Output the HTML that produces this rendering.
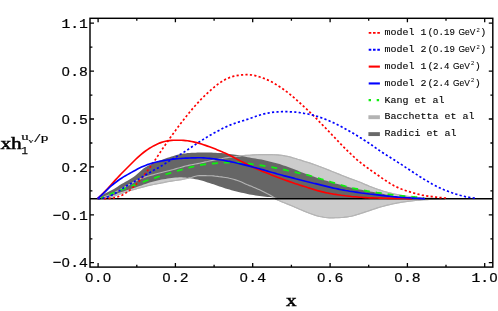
<!DOCTYPE html>
<html><head><meta charset="utf-8"><title>plot</title>
<style>
html,body{margin:0;padding:0;background:#fff;}
svg{display:block;}
text{font-family:"Liberation Mono",monospace;fill:#000;}
.t{filter:grayscale(1);}
.z{font-family:"Liberation Sans",sans-serif;}
.s text{font-family:"Liberation Serif",serif;}
</style></head><body>
<svg width="498" height="311" viewBox="0 0 498 311">
<rect width="498" height="311" fill="#fff"/>
<path d="M97.5,198.7 L99.5,198.2 L101.5,197.6 L103.5,197.0 L105.5,196.3 L107.5,195.6 L109.5,194.8 L111.5,194.0 L113.5,193.0 L115.5,192.0 L117.5,190.9 L119.5,189.9 L121.5,188.8 L123.5,187.8 L125.5,186.7 L127.5,185.6 L129.5,184.6 L131.5,183.5 L133.5,182.3 L135.5,181.2 L137.5,180.1 L139.5,179.1 L141.5,178.3 L143.5,177.6 L145.5,176.9 L147.5,176.3 L149.5,175.7 L151.5,175.1 L153.5,174.6 L155.5,174.0 L157.5,173.5 L159.5,173.0 L161.5,172.5 L163.5,172.0 L165.5,171.5 L167.5,171.0 L169.5,170.5 L171.5,170.0 L173.5,169.5 L175.5,168.9 L177.5,168.3 L179.5,167.8 L181.5,167.2 L183.5,166.6 L185.5,166.0 L187.5,165.6 L189.5,165.1 L191.5,164.7 L193.5,164.4 L195.5,164.0 L197.5,163.6 L199.5,163.2 L201.5,162.8 L203.5,162.4 L205.5,161.9 L207.5,161.5 L209.5,161.0 L211.5,160.6 L213.5,160.2 L215.5,159.8 L217.5,159.4 L219.5,159.0 L221.5,158.7 L223.5,158.3 L225.5,157.9 L227.5,157.6 L229.5,157.3 L231.5,157.1 L233.5,156.8 L235.5,156.6 L237.5,156.3 L239.5,156.1 L241.5,155.8 L243.5,155.6 L245.5,155.4 L247.5,155.3 L249.5,155.2 L251.5,155.0 L253.5,154.9 L255.5,154.8 L257.5,154.7 L259.5,154.6 L261.5,154.6 L263.5,154.6 L265.5,154.6 L267.5,154.6 L269.5,154.6 L271.5,154.6 L273.5,154.7 L275.5,154.8 L277.5,154.9 L279.5,155.1 L281.5,155.3 L283.5,155.6 L285.5,156.0 L287.5,156.4 L289.5,156.8 L291.5,157.4 L293.5,158.0 L295.5,158.5 L297.5,159.2 L299.5,159.8 L301.5,160.4 L303.5,161.1 L305.5,161.7 L307.5,162.3 L309.5,162.9 L311.5,163.6 L313.5,164.3 L315.5,165.0 L317.5,165.7 L319.5,166.5 L321.5,167.2 L323.5,168.0 L325.5,168.8 L327.5,169.6 L329.5,170.4 L331.5,171.2 L333.5,172.0 L335.5,172.8 L337.5,173.6 L339.5,174.4 L341.5,175.2 L343.5,176.0 L345.5,176.8 L347.5,177.6 L349.5,178.4 L351.5,179.1 L353.5,179.8 L355.5,180.5 L357.5,181.3 L359.5,182.0 L361.5,182.8 L363.5,183.7 L365.5,184.6 L367.5,185.4 L369.5,186.3 L371.5,187.0 L373.5,187.8 L375.5,188.5 L377.5,189.2 L379.5,189.9 L381.5,190.5 L383.5,191.2 L385.5,191.7 L387.5,192.3 L389.5,192.8 L391.5,193.3 L393.5,193.8 L395.5,194.2 L397.5,194.6 L399.5,195.0 L401.5,195.3 L403.5,195.7 L405.5,196.0 L407.5,196.3 L409.5,196.6 L411.5,196.9 L413.5,197.1 L415.5,197.3 L417.5,197.5 L419.5,197.6 L421.5,197.8 L423.5,197.9 L425.5,198.1 L427.5,198.2 L429.5,198.3 L431.5,198.3 L433.5,198.4 L435.5,198.5 L437.5,198.6 L439.5,198.6 L441.5,198.7 L443.5,198.7 L445.0,198.7 L445.0,198.7 L443.5,198.8 L441.5,198.8 L439.5,198.9 L437.5,199.0 L435.5,199.1 L433.5,199.2 L431.5,199.3 L429.5,199.4 L427.5,199.6 L425.5,199.7 L423.5,199.8 L421.5,200.0 L419.5,200.2 L417.5,200.3 L415.5,200.5 L413.5,200.7 L411.5,201.0 L409.5,201.2 L407.5,201.4 L405.5,201.7 L403.5,202.0 L401.5,202.3 L399.5,202.6 L397.5,203.0 L395.5,203.4 L393.5,203.8 L391.5,204.2 L389.5,204.7 L387.5,205.1 L385.5,205.6 L383.5,206.2 L381.5,206.7 L379.5,207.3 L377.5,207.9 L375.5,208.6 L373.5,209.2 L371.5,209.9 L369.5,210.6 L367.5,211.3 L365.5,211.9 L363.5,212.6 L361.5,213.2 L359.5,213.9 L357.5,214.5 L355.5,215.1 L353.5,215.7 L351.5,216.2 L349.5,216.5 L347.5,216.9 L345.5,217.1 L343.5,217.4 L341.5,217.5 L339.5,217.6 L337.5,217.7 L335.5,217.7 L333.5,217.8 L331.5,217.8 L329.5,217.8 L327.5,217.7 L325.5,217.5 L323.5,217.2 L321.5,216.8 L319.5,216.5 L317.5,216.0 L315.5,215.4 L313.5,214.7 L311.5,214.0 L309.5,213.3 L307.5,212.5 L305.5,211.7 L303.5,210.9 L301.5,210.0 L299.5,209.2 L297.5,208.3 L295.5,207.5 L293.5,206.6 L291.5,205.7 L289.5,204.9 L287.5,204.1 L285.5,203.3 L283.5,202.5 L281.5,201.7 L279.5,200.8 L277.5,200.0 L275.5,198.9 L273.5,197.3 L271.5,195.9 L269.5,194.8 L267.5,193.8 L265.5,192.7 L263.5,191.7 L261.5,190.7 L259.5,189.8 L257.5,188.9 L255.5,188.0 L253.5,187.2 L251.5,186.3 L249.5,185.6 L247.5,184.8 L245.5,183.9 L243.5,183.0 L241.5,182.1 L239.5,181.2 L237.5,180.5 L235.5,179.9 L233.5,179.3 L231.5,178.7 L229.5,178.3 L227.5,177.8 L225.5,177.5 L223.5,177.2 L221.5,176.9 L219.5,176.7 L217.5,176.4 L215.5,176.2 L213.5,175.9 L211.5,175.8 L209.5,175.7 L207.5,175.7 L205.5,175.6 L203.5,175.6 L201.5,175.6 L199.5,175.6 L197.5,175.7 L195.5,176.2 L193.5,176.8 L191.5,177.5 L189.5,177.9 L187.5,178.4 L185.5,178.8 L183.5,179.2 L181.5,179.6 L179.5,179.9 L177.5,180.2 L175.5,180.5 L173.5,180.8 L171.5,181.1 L169.5,181.4 L167.5,181.7 L165.5,182.1 L163.5,182.6 L161.5,183.0 L159.5,183.4 L157.5,183.7 L155.5,184.1 L153.5,184.5 L151.5,184.9 L149.5,185.4 L147.5,185.8 L145.5,186.4 L143.5,186.9 L141.5,187.4 L139.5,188.0 L137.5,188.5 L135.5,189.1 L133.5,189.6 L131.5,190.2 L129.5,190.8 L127.5,191.5 L125.5,192.1 L123.5,192.8 L121.5,193.5 L119.5,194.2 L117.5,195.0 L115.5,195.7 L113.5,196.5 L111.5,197.1 L109.5,197.5 L107.5,197.8 L105.5,198.1 L103.5,198.3 L101.5,198.5 L99.5,198.7 L97.5,198.7Z" fill="#cccccc" stroke="#b2b2b2" stroke-width="0.9" stroke-linejoin="round"/>
<path d="M97.5,198.7 L99.5,197.1 L101.5,195.7 L103.5,194.4 L105.5,193.2 L107.5,192.2 L109.5,191.3 L111.5,190.3 L113.5,189.3 L115.5,188.1 L117.5,186.7 L119.5,185.3 L121.5,184.1 L123.5,183.0 L125.5,181.8 L127.5,180.7 L129.5,179.6 L131.5,178.3 L133.5,177.0 L135.5,175.5 L137.5,173.7 L139.5,171.9 L141.5,170.2 L143.5,168.6 L145.5,167.3 L147.5,166.0 L149.5,165.0 L151.5,164.0 L153.5,163.1 L155.5,162.3 L157.5,161.5 L159.5,160.7 L161.5,159.9 L163.5,159.2 L165.5,158.5 L167.5,157.8 L169.5,157.2 L171.5,156.5 L173.5,155.9 L175.5,155.3 L177.5,154.7 L179.5,154.3 L181.5,154.0 L183.5,153.6 L185.5,153.4 L187.5,153.1 L189.5,153.0 L191.5,152.8 L193.5,152.7 L195.5,152.7 L197.5,152.6 L199.5,152.6 L201.5,152.5 L203.5,152.5 L205.5,152.5 L207.5,152.5 L209.5,152.6 L211.5,152.6 L213.5,152.7 L215.5,152.8 L217.5,152.9 L219.5,153.0 L221.5,153.1 L223.5,153.3 L225.5,153.5 L227.5,153.7 L229.5,154.0 L231.5,154.2 L233.5,154.5 L235.5,154.8 L237.5,155.1 L239.5,155.4 L241.5,155.8 L243.5,156.3 L245.5,156.8 L247.5,157.2 L249.5,157.5 L251.5,157.9 L253.5,158.2 L255.5,158.5 L257.5,158.9 L259.5,159.2 L261.5,159.6 L263.5,160.0 L265.5,160.4 L267.5,160.9 L269.5,161.4 L271.5,161.9 L273.5,162.4 L275.5,162.9 L277.5,163.5 L279.5,164.1 L281.5,164.7 L283.5,165.4 L285.5,166.1 L287.5,166.8 L289.5,167.5 L291.5,168.2 L293.5,169.0 L295.5,169.8 L297.5,170.6 L299.5,171.4 L301.5,172.2 L303.5,172.9 L305.5,173.7 L307.5,174.4 L309.5,175.2 L311.5,175.9 L313.5,176.6 L315.5,177.3 L317.5,178.0 L319.5,178.6 L321.5,179.3 L323.5,179.9 L325.5,180.5 L327.5,181.1 L329.5,181.7 L331.5,182.3 L333.5,182.9 L335.5,183.5 L337.5,184.0 L339.5,184.6 L341.5,185.1 L343.5,185.7 L345.5,186.2 L347.5,186.7 L349.5,187.2 L351.5,187.7 L353.5,188.1 L355.5,188.5 L357.5,189.0 L359.5,189.4 L361.5,189.8 L363.5,190.2 L365.5,190.6 L367.5,191.0 L369.5,191.4 L371.5,191.7 L373.5,192.1 L375.5,192.5 L377.5,192.8 L379.5,193.2 L381.5,193.6 L383.5,194.0 L385.5,194.4 L387.5,194.8 L389.5,195.2 L391.5,195.6 L393.5,195.9 L395.5,196.2 L397.5,196.5 L399.5,196.7 L401.5,197.0 L403.5,197.2 L405.5,197.4 L407.5,197.6 L409.5,197.8 L411.5,197.9 L413.5,198.1 L415.5,198.2 L417.5,198.4 L419.5,198.5 L421.5,198.7 L422.0,198.7 L422.0,198.7 L421.5,198.7 L419.5,198.7 L417.5,198.7 L415.5,198.7 L413.5,198.7 L411.5,198.7 L409.5,198.7 L407.5,198.7 L405.5,198.7 L403.5,198.7 L401.5,198.7 L399.5,198.7 L397.5,198.7 L395.5,198.7 L393.5,198.7 L391.5,198.7 L389.5,198.7 L387.5,198.7 L385.5,198.7 L383.5,198.7 L381.5,198.7 L379.5,198.7 L377.5,198.7 L375.5,198.7 L373.5,198.7 L371.5,198.7 L369.5,198.7 L367.5,198.7 L365.5,198.7 L363.5,198.7 L361.5,198.7 L359.5,198.7 L357.5,198.7 L355.5,198.7 L353.5,198.7 L351.5,198.7 L349.5,198.7 L347.5,198.7 L345.5,198.7 L343.5,198.7 L341.5,198.7 L339.5,198.7 L337.5,198.7 L335.5,198.7 L333.5,198.7 L331.5,198.7 L329.5,198.7 L327.5,198.7 L325.5,198.7 L323.5,198.7 L321.5,198.7 L319.5,198.7 L317.5,198.7 L315.5,198.7 L313.5,198.7 L311.5,198.7 L309.5,198.7 L307.5,198.7 L305.5,198.7 L303.5,198.7 L301.5,198.7 L299.5,198.7 L297.5,198.7 L295.5,198.7 L293.5,198.7 L291.5,198.7 L289.5,198.7 L287.5,198.6 L285.5,198.5 L283.5,198.4 L281.5,198.2 L279.5,198.0 L277.5,197.9 L275.5,197.7 L273.5,197.5 L271.5,197.3 L269.5,197.1 L267.5,196.9 L265.5,196.7 L263.5,196.5 L261.5,196.3 L259.5,196.0 L257.5,195.7 L255.5,195.4 L253.5,195.1 L251.5,194.7 L249.5,194.4 L247.5,194.0 L245.5,193.6 L243.5,193.1 L241.5,192.7 L239.5,192.2 L237.5,191.8 L235.5,191.2 L233.5,190.7 L231.5,190.2 L229.5,189.6 L227.5,189.0 L225.5,188.4 L223.5,187.7 L221.5,187.1 L219.5,186.4 L217.5,185.7 L215.5,185.0 L213.5,184.3 L211.5,183.7 L209.5,183.0 L207.5,182.4 L205.5,181.7 L203.5,181.1 L201.5,180.6 L199.5,180.1 L197.5,179.6 L195.5,179.2 L193.5,178.8 L191.5,178.4 L189.5,178.1 L187.5,177.9 L185.5,177.6 L183.5,177.4 L181.5,177.3 L179.5,177.3 L177.5,177.4 L175.5,177.6 L173.5,177.8 L171.5,178.1 L169.5,178.3 L167.5,178.6 L165.5,178.9 L163.5,179.2 L161.5,179.6 L159.5,180.0 L157.5,180.4 L155.5,180.9 L153.5,181.5 L151.5,182.0 L149.5,182.6 L147.5,183.3 L145.5,183.9 L143.5,184.6 L141.5,185.4 L139.5,186.0 L137.5,186.7 L135.5,187.4 L133.5,188.1 L131.5,188.8 L129.5,189.4 L127.5,190.1 L125.5,190.8 L123.5,191.4 L121.5,192.1 L119.5,192.8 L117.5,193.6 L115.5,194.4 L113.5,195.1 L111.5,195.8 L109.5,196.4 L107.5,196.9 L105.5,197.3 L103.5,197.7 L101.5,198.1 L99.5,198.4 L97.5,198.7Z" fill="#666666"/>
<path d="M97.5,198.7 L99.5,198.2 L101.5,197.6 L103.5,197.0 L105.5,196.3 L107.5,195.6 L109.5,194.8 L111.5,194.0 L113.5,193.0 L115.5,192.0 L117.5,190.9 L119.5,189.9 L121.5,188.8 L123.5,187.8 L125.5,186.7 L127.5,185.6 L129.5,184.6 L131.5,183.5 L133.5,182.3 L135.5,181.2 L137.5,180.1 L139.5,179.1 L141.5,178.3 L143.5,177.6 L145.5,176.9 L147.5,176.3 L149.5,175.7 L151.5,175.1 L153.5,174.6 L155.5,174.0 L157.5,173.5 L159.5,173.0 L161.5,172.5 L163.5,172.0 L165.5,171.5 L167.5,171.0 L169.5,170.5 L171.5,170.0 L173.5,169.5 L175.5,168.9 L177.5,168.3 L179.5,167.8 L181.5,167.2 L183.5,166.6 L185.5,166.0 L187.5,165.6 L189.5,165.1 L191.5,164.7 L193.5,164.4 L195.5,164.0 L197.5,163.6 L199.5,163.2 L201.5,162.8 L203.5,162.4 L205.5,161.9 L207.5,161.5 L209.5,161.0 L211.5,160.6 L213.5,160.2 L215.5,159.8 L217.5,159.4 L219.5,159.0 L221.5,158.7 L223.5,158.3 L225.5,157.9 L227.5,157.6 L229.5,157.3 L231.5,157.1 L233.5,156.8 L235.5,156.6 L237.5,156.3 L239.5,156.1 L241.5,155.8 L243.5,155.6 L245.5,155.4 L247.5,155.3 L249.5,155.2 L251.5,155.0 L253.5,154.9 L255.5,154.8 L257.5,154.7 L259.5,154.6 L261.5,154.6 L263.5,154.6 L265.5,154.6 L267.5,154.6 L269.5,154.6 L271.5,154.6 L273.5,154.7 L275.5,154.8 L277.5,154.9 L279.5,155.1 L281.5,155.3 L283.5,155.6 L285.5,156.0 L287.5,156.4 L289.5,156.8 L291.5,157.4 L293.5,158.0 L295.5,158.5 L297.5,159.2 L299.5,159.8 L301.5,160.4 L303.5,161.1 L305.5,161.7 L307.5,162.3 L309.5,162.9 L311.5,163.6 L313.5,164.3 L315.5,165.0 L317.5,165.7 L319.5,166.5 L321.5,167.2 L323.5,168.0 L325.5,168.8 L327.5,169.6 L329.5,170.4 L331.5,171.2 L333.5,172.0 L335.5,172.8 L337.5,173.6 L339.5,174.4 L341.5,175.2 L343.5,176.0 L345.5,176.8 L347.5,177.6 L349.5,178.4 L351.5,179.1 L353.5,179.8 L355.5,180.5 L357.5,181.3 L359.5,182.0 L361.5,182.8 L363.5,183.7 L365.5,184.6 L367.5,185.4 L369.5,186.3 L371.5,187.0 L373.5,187.8 L375.5,188.5 L377.5,189.2 L379.5,189.9 L381.5,190.5 L383.5,191.2 L385.5,191.7 L387.5,192.3 L389.5,192.8 L391.5,193.3 L393.5,193.8 L395.5,194.2 L397.5,194.6 L399.5,195.0 L401.5,195.3 L403.5,195.7 L405.5,196.0 L407.5,196.3 L409.5,196.6 L411.5,196.9 L413.5,197.1 L415.5,197.3 L417.5,197.5 L419.5,197.6 L421.5,197.8 L423.5,197.9 L425.5,198.1 L427.5,198.2 L429.5,198.3 L431.5,198.3 L433.5,198.4 L435.5,198.5 L437.5,198.6 L439.5,198.6 L441.5,198.7 L443.5,198.7 L445.0,198.7" fill="none" stroke="#b4b4b4" stroke-width="1.15"/>
<path d="M97.5,198.7 L99.5,198.7 L101.5,198.5 L103.5,198.3 L105.5,198.1 L107.5,197.8 L109.5,197.5 L111.5,197.1 L113.5,196.5 L115.5,195.7 L117.5,195.0 L119.5,194.2 L121.5,193.5 L123.5,192.8 L125.5,192.1 L127.5,191.5 L129.5,190.8 L131.5,190.2 L133.5,189.6 L135.5,189.1 L137.5,188.5 L139.5,188.0 L141.5,187.4 L143.5,186.9 L145.5,186.4 L147.5,185.8 L149.5,185.4 L151.5,184.9 L153.5,184.5 L155.5,184.1 L157.5,183.7 L159.5,183.4 L161.5,183.0 L163.5,182.6 L165.5,182.1 L167.5,181.7 L169.5,181.4 L171.5,181.1 L173.5,180.8 L175.5,180.5 L177.5,180.2 L179.5,179.9 L181.5,179.6 L183.5,179.2 L185.5,178.8 L187.5,178.4 L189.5,177.9 L191.5,177.5 L193.5,176.8 L195.5,176.2 L197.5,175.7 L199.5,175.6 L201.5,175.6 L203.5,175.6 L205.5,175.6 L207.5,175.7 L209.5,175.7 L211.5,175.8 L213.5,175.9 L215.5,176.2 L217.5,176.4 L219.5,176.7 L221.5,176.9 L223.5,177.2 L225.5,177.5 L227.5,177.8 L229.5,178.3 L231.5,178.7 L233.5,179.3 L235.5,179.9 L237.5,180.5 L239.5,181.2 L241.5,182.1 L243.5,183.0 L245.5,183.9 L247.5,184.8 L249.5,185.6 L251.5,186.3 L253.5,187.2 L255.5,188.0 L257.5,188.9 L259.5,189.8 L261.5,190.7 L263.5,191.7 L265.5,192.7 L267.5,193.8 L269.5,194.8 L271.5,195.9 L273.5,197.3 L275.5,198.9 L277.5,200.0 L279.5,200.8 L281.5,201.7 L283.5,202.5 L285.5,203.3 L287.5,204.1 L289.5,204.9 L291.5,205.7 L293.5,206.6 L295.5,207.5 L297.5,208.3 L299.5,209.2 L301.5,210.0 L303.5,210.9 L305.5,211.7 L307.5,212.5 L309.5,213.3 L311.5,214.0 L313.5,214.7 L315.5,215.4 L317.5,216.0 L319.5,216.5 L321.5,216.8 L323.5,217.2 L325.5,217.5 L327.5,217.7 L329.5,217.8 L331.5,217.8 L333.5,217.8 L335.5,217.7 L337.5,217.7 L339.5,217.6 L341.5,217.5 L343.5,217.4 L345.5,217.1 L347.5,216.9 L349.5,216.5 L351.5,216.2 L353.5,215.7 L355.5,215.1 L357.5,214.5 L359.5,213.9 L361.5,213.2 L363.5,212.6 L365.5,211.9 L367.5,211.3 L369.5,210.6 L371.5,209.9 L373.5,209.2 L375.5,208.6 L377.5,207.9 L379.5,207.3 L381.5,206.7 L383.5,206.2 L385.5,205.6 L387.5,205.1 L389.5,204.7 L391.5,204.2 L393.5,203.8 L395.5,203.4 L397.5,203.0 L399.5,202.6 L401.5,202.3 L403.5,202.0 L405.5,201.7 L407.5,201.4 L409.5,201.2 L411.5,201.0 L413.5,200.7 L415.5,200.5 L417.5,200.3 L419.5,200.2 L421.5,200.0 L423.5,199.8 L425.5,199.7 L427.5,199.6 L429.5,199.4 L431.5,199.3 L433.5,199.2 L435.5,199.1 L437.5,199.0 L439.5,198.9 L441.5,198.8 L443.5,198.8 L445.0,198.7" fill="none" stroke="#b4b4b4" stroke-width="1.15"/>
<path d="M90.0,198.7 H492.8" stroke="#000" stroke-width="1.5"/>
<path d="M101.0,198.0 L103.0,197.2 L105.0,196.3 L107.0,195.5 L109.0,194.7 L111.0,193.8 L113.0,193.0 L115.0,192.2 L117.0,191.4 L119.0,190.6 L121.0,189.9 L123.0,189.1 L125.0,188.4 L127.0,187.7 L129.0,187.0 L131.0,186.3 L133.0,185.6 L135.0,184.9 L137.0,184.2 L139.0,183.4 L141.0,182.7 L143.0,182.0 L145.0,181.2 L147.0,180.5 L149.0,179.8 L151.0,179.1 L153.0,178.5 L155.0,177.8 L157.0,177.1 L159.0,176.5 L161.0,175.9 L163.0,175.3 L165.0,174.6 L167.0,174.0 L169.0,173.4 L171.0,172.8 L173.0,172.2 L175.0,171.6 L177.0,171.0 L179.0,170.4 L181.0,169.8 L183.0,169.3 L185.0,168.7 L187.0,168.2 L189.0,167.7 L191.0,167.1 L193.0,166.7 L195.0,166.2 L197.0,165.8 L199.0,165.4 L201.0,165.0 L203.0,164.7 L205.0,164.4 L207.0,164.1 L209.0,163.9 L211.0,163.7 L213.0,163.5 L215.0,163.3 L217.0,163.1 L219.0,163.0 L221.0,162.9 L223.0,162.7 L225.0,162.7 L227.0,162.6 L229.0,162.5 L231.0,162.5 L233.0,162.5 L235.0,162.5 L237.0,162.6 L239.0,162.7 L241.0,162.8 L243.0,163.0 L245.0,163.3 L247.0,163.5 L249.0,163.7 L251.0,164.0 L253.0,164.3 L255.0,164.6 L257.0,164.8 L259.0,165.1 L261.0,165.4 L263.0,165.7 L265.0,166.1 L267.0,166.4 L269.0,166.7 L271.0,167.1 L273.0,167.4 L275.0,167.8 L277.0,168.2 L279.0,168.6 L281.0,169.0 L283.0,169.5 L285.0,169.9 L287.0,170.4 L289.0,170.8 L291.0,171.3 L293.0,171.8 L295.0,172.2 L297.0,172.7 L299.0,173.1 L301.0,173.6 L303.0,174.0 L305.0,174.4 L307.0,174.9 L309.0,175.4 L311.0,176.0 L313.0,176.6 L315.0,177.2 L317.0,177.8 L319.0,178.4 L321.0,179.0 L323.0,179.6 L325.0,180.2 L327.0,180.8 L329.0,181.4 L331.0,182.0 L333.0,182.6 L335.0,183.2 L337.0,183.8 L339.0,184.4 L341.0,185.0 L343.0,185.6 L345.0,186.2 L347.0,186.7 L349.0,187.3 L351.0,187.7 L353.0,188.2 L355.0,188.6 L357.0,189.0 L359.0,189.4 L361.0,189.8 L363.0,190.2 L365.0,190.6 L367.0,191.0 L369.0,191.3 L371.0,191.6 L373.0,192.0 L375.0,192.3 L377.0,192.6 L379.0,192.8 L381.0,193.1 L383.0,193.4 L385.0,193.7 L387.0,194.0 L389.0,194.3 L391.0,194.6 L393.0,194.9 L395.0,195.1 L397.0,195.4 L399.0,195.6 L401.0,195.8 L403.0,196.0 L405.0,196.2 L407.0,196.3 L409.0,196.5 L411.0,196.7 L413.0,196.8 L415.0,197.0 L417.0,197.1 L419.0,197.4 L421.0,197.6 L423.0,197.9 L424.0,198.0" fill="none" stroke="#10ee10" stroke-width="1.8" stroke-dasharray="6.0 5.95" stroke-dashoffset="-8.94"/>
<path d="M104.0,198.7 L106.0,198.6 L108.0,198.5 L110.0,198.3 L112.0,198.1 L114.0,197.8 L116.0,197.3 L118.0,196.8 L120.0,196.0 L122.0,195.2 L124.0,194.1 L126.0,192.9 L128.0,191.5 L130.0,190.0 L132.0,188.3 L134.0,186.4 L136.0,184.5 L138.0,182.4 L140.0,180.1 L142.0,177.8 L144.0,175.4 L146.0,172.8 L148.0,170.1 L150.0,167.4 L152.0,164.5 L154.0,161.6 L156.0,158.6 L158.0,155.6 L160.0,152.6 L162.0,149.6 L164.0,146.7 L166.0,143.8 L168.0,141.0 L170.0,138.1 L172.0,135.3 L174.0,132.5 L176.0,129.8 L178.0,127.1 L180.0,124.4 L182.0,121.8 L184.0,119.3 L186.0,116.7 L188.0,114.3 L190.0,111.8 L192.0,109.4 L194.0,107.1 L196.0,104.8 L198.0,102.6 L200.0,100.4 L202.0,98.3 L204.0,96.4 L206.0,94.4 L208.0,92.6 L210.0,90.8 L212.0,89.0 L214.0,87.3 L216.0,85.7 L218.0,84.1 L220.0,82.7 L222.0,81.4 L224.0,80.2 L226.0,79.1 L228.0,78.2 L230.0,77.4 L232.0,76.7 L234.0,76.2 L236.0,75.8 L238.0,75.4 L240.0,75.1 L242.0,74.9 L244.0,74.8 L246.0,74.7 L248.0,74.7 L250.0,74.8 L252.0,75.0 L254.0,75.4 L256.0,75.8 L258.0,76.4 L260.0,77.0 L262.0,77.6 L264.0,78.4 L266.0,79.2 L268.0,80.1 L270.0,81.0 L272.0,82.1 L274.0,83.2 L276.0,84.4 L278.0,85.7 L280.0,87.0 L282.0,88.3 L284.0,89.7 L286.0,91.2 L288.0,92.7 L290.0,94.3 L292.0,96.0 L294.0,97.7 L296.0,99.4 L298.0,101.2 L300.0,103.0 L302.0,104.8 L304.0,106.7 L306.0,108.5 L308.0,110.4 L310.0,112.3 L312.0,114.3 L314.0,116.2 L316.0,118.2 L318.0,120.3 L320.0,122.3 L322.0,124.4 L324.0,126.4 L326.0,128.5 L328.0,130.6 L330.0,132.7 L332.0,134.8 L334.0,136.9 L336.0,139.0 L338.0,141.1 L340.0,143.2 L342.0,145.3 L344.0,147.3 L346.0,149.3 L348.0,151.3 L350.0,153.2 L352.0,155.1 L354.0,157.0 L356.0,158.8 L358.0,160.6 L360.0,162.2 L362.0,163.8 L364.0,165.3 L366.0,166.8 L368.0,168.2 L370.0,169.7 L372.0,171.1 L374.0,172.5 L376.0,173.9 L378.0,175.3 L380.0,176.7 L382.0,178.1 L384.0,179.5 L386.0,180.8 L388.0,182.1 L390.0,183.4 L392.0,184.6 L394.0,185.7 L396.0,186.7 L398.0,187.6 L400.0,188.5 L402.0,189.3 L404.0,190.0 L406.0,190.7 L408.0,191.3 L410.0,191.9 L412.0,192.5 L414.0,193.1 L416.0,193.7 L418.0,194.2 L420.0,194.6 L422.0,195.1 L424.0,195.4 L426.0,195.8 L428.0,196.1 L430.0,196.4 L432.0,196.6 L434.0,196.9 L436.0,197.1 L438.0,197.4 L440.0,197.6 L442.0,197.7 L444.0,197.9 L446.0,198.0 L447.0,198.1" fill="none" stroke="#f00" stroke-width="1.7" stroke-dasharray="2.2 2.25"/>
<path d="M98.0,198.7 L100.0,198.5 L102.0,198.3 L104.0,197.9 L106.0,197.4 L108.0,196.7 L110.0,195.9 L112.0,195.0 L114.0,194.0 L116.0,192.8 L118.0,191.6 L120.0,190.2 L122.0,188.9 L124.0,187.6 L126.0,186.3 L128.0,185.0 L130.0,183.9 L132.0,182.8 L134.0,181.8 L136.0,180.7 L138.0,179.6 L140.0,178.4 L142.0,177.2 L144.0,176.0 L146.0,174.8 L148.0,173.6 L150.0,172.4 L152.0,171.3 L154.0,170.1 L156.0,169.0 L158.0,167.9 L160.0,166.8 L162.0,165.6 L164.0,164.3 L166.0,163.0 L168.0,161.8 L170.0,160.5 L172.0,159.3 L174.0,158.1 L176.0,157.0 L178.0,155.8 L180.0,154.6 L182.0,153.4 L184.0,152.1 L186.0,150.8 L188.0,149.5 L190.0,148.1 L192.0,146.8 L194.0,145.5 L196.0,144.1 L198.0,142.8 L200.0,141.5 L202.0,140.2 L204.0,139.0 L206.0,137.7 L208.0,136.5 L210.0,135.3 L212.0,134.2 L214.0,133.0 L216.0,132.0 L218.0,130.9 L220.0,129.9 L222.0,128.8 L224.0,127.8 L226.0,126.9 L228.0,126.0 L230.0,125.1 L232.0,124.3 L234.0,123.6 L236.0,122.9 L238.0,122.3 L240.0,121.6 L242.0,121.0 L244.0,120.4 L246.0,119.7 L248.0,119.1 L250.0,118.4 L252.0,117.7 L254.0,117.0 L256.0,116.3 L258.0,115.7 L260.0,115.0 L262.0,114.5 L264.0,113.9 L266.0,113.5 L268.0,113.1 L270.0,112.7 L272.0,112.4 L274.0,112.2 L276.0,112.0 L278.0,111.9 L280.0,111.8 L282.0,111.7 L284.0,111.7 L286.0,111.7 L288.0,111.7 L290.0,111.8 L292.0,111.9 L294.0,112.0 L296.0,112.2 L298.0,112.4 L300.0,112.7 L302.0,112.9 L304.0,113.3 L306.0,113.6 L308.0,114.0 L310.0,114.4 L312.0,114.9 L314.0,115.4 L316.0,116.0 L318.0,116.6 L320.0,117.3 L322.0,118.0 L324.0,118.7 L326.0,119.5 L328.0,120.3 L330.0,121.2 L332.0,122.1 L334.0,123.0 L336.0,124.0 L338.0,125.0 L340.0,126.0 L342.0,127.1 L344.0,128.2 L346.0,129.2 L348.0,130.4 L350.0,131.5 L352.0,132.6 L354.0,133.8 L356.0,135.0 L358.0,136.2 L360.0,137.5 L362.0,138.7 L364.0,140.0 L366.0,141.2 L368.0,142.5 L370.0,143.9 L372.0,145.2 L374.0,146.7 L376.0,148.1 L378.0,149.5 L380.0,150.9 L382.0,152.2 L384.0,153.5 L386.0,154.8 L388.0,156.1 L390.0,157.3 L392.0,158.6 L394.0,159.8 L396.0,161.1 L398.0,162.4 L400.0,163.6 L402.0,164.9 L404.0,166.2 L406.0,167.6 L408.0,168.9 L410.0,170.2 L412.0,171.5 L414.0,172.8 L416.0,174.1 L418.0,175.4 L420.0,176.7 L422.0,177.9 L424.0,179.2 L426.0,180.4 L428.0,181.6 L430.0,182.7 L432.0,183.9 L434.0,185.0 L436.0,186.0 L438.0,187.1 L440.0,188.0 L442.0,188.9 L444.0,189.8 L446.0,190.6 L448.0,191.3 L450.0,192.1 L452.0,192.8 L454.0,193.4 L456.0,194.1 L458.0,194.7 L460.0,195.3 L462.0,195.8 L464.0,196.3 L466.0,196.8 L468.0,197.1 L470.0,197.5 L472.0,197.7 L474.0,198.0 L475.0,198.1" fill="none" stroke="#00f" stroke-width="1.7" stroke-dasharray="2.2 2.25"/>
<path d="M97.5,198.7 L99.5,196.8 L101.5,194.9 L103.5,192.9 L105.5,190.9 L107.5,188.7 L109.5,186.5 L111.5,184.3 L113.5,182.1 L115.5,179.9 L117.5,177.7 L119.5,175.6 L121.5,173.5 L123.5,171.5 L125.5,169.5 L127.5,167.5 L129.5,165.5 L131.5,163.5 L133.5,161.5 L135.5,159.5 L137.5,157.7 L139.5,155.9 L141.5,154.2 L143.5,152.5 L145.5,151.0 L147.5,149.6 L149.5,148.3 L151.5,147.1 L153.5,145.9 L155.5,144.9 L157.5,144.0 L159.5,143.1 L161.5,142.4 L163.5,141.8 L165.5,141.3 L167.5,140.9 L169.5,140.6 L171.5,140.4 L173.5,140.3 L175.5,140.2 L177.5,140.2 L179.5,140.2 L181.5,140.3 L183.5,140.4 L185.5,140.6 L187.5,140.8 L189.5,141.1 L191.5,141.5 L193.5,141.9 L195.5,142.4 L197.5,142.9 L199.5,143.4 L201.5,144.0 L203.5,144.7 L205.5,145.4 L207.5,146.1 L209.5,146.8 L211.5,147.5 L213.5,148.3 L215.5,149.1 L217.5,149.9 L219.5,150.7 L221.5,151.6 L223.5,152.4 L225.5,153.3 L227.5,154.3 L229.5,155.2 L231.5,156.3 L233.5,157.3 L235.5,158.4 L237.5,159.5 L239.5,160.5 L241.5,161.6 L243.5,162.6 L245.5,163.6 L247.5,164.5 L249.5,165.5 L251.5,166.4 L253.5,167.4 L255.5,168.3 L257.5,169.2 L259.5,170.1 L261.5,170.9 L263.5,171.7 L265.5,172.5 L267.5,173.3 L269.5,174.1 L271.5,174.9 L273.5,175.7 L275.5,176.5 L277.5,177.3 L279.5,178.0 L281.5,178.8 L283.5,179.5 L285.5,180.2 L287.5,180.9 L289.5,181.6 L291.5,182.3 L293.5,183.0 L295.5,183.7 L297.5,184.3 L299.5,185.0 L301.5,185.6 L303.5,186.2 L305.5,186.8 L307.5,187.5 L309.5,188.1 L311.5,188.7 L313.5,189.4 L315.5,190.0 L317.5,190.6 L319.5,191.1 L321.5,191.6 L323.5,192.1 L325.5,192.6 L327.5,193.0 L329.5,193.4 L331.5,193.7 L333.5,194.1 L335.5,194.4 L337.5,194.7 L339.5,195.0 L341.5,195.3 L343.5,195.5 L345.5,195.8 L347.5,196.0 L349.5,196.2 L351.5,196.5 L353.5,196.7 L355.5,196.8 L357.5,197.0 L359.5,197.2 L361.5,197.3 L363.5,197.5 L365.5,197.6 L367.5,197.7 L369.5,197.8 L371.5,197.8 L373.5,197.9 L375.5,198.0 L377.5,198.0 L379.5,198.1 L381.5,198.1 L383.5,198.2 L385.5,198.2 L387.5,198.3 L389.5,198.3 L391.5,198.3 L393.5,198.4 L395.5,198.4 L397.5,198.4 L399.5,198.5 L401.5,198.5 L403.5,198.5 L405.5,198.5 L407.5,198.6 L409.5,198.6 L411.5,198.7 L412.0,198.7" fill="none" stroke="#f00" stroke-width="1.65"/>
<path d="M97.5,198.7 L99.5,196.9 L101.5,195.1 L103.5,193.3 L105.5,191.3 L107.5,189.3 L109.5,187.4 L111.5,185.7 L113.5,184.0 L115.5,182.5 L117.5,181.0 L119.5,179.5 L121.5,178.2 L123.5,176.9 L125.5,175.7 L127.5,174.6 L129.5,173.5 L131.5,172.4 L133.5,171.3 L135.5,170.2 L137.5,169.1 L139.5,168.1 L141.5,167.1 L143.5,166.2 L145.5,165.4 L147.5,164.6 L149.5,164.0 L151.5,163.4 L153.5,162.8 L155.5,162.3 L157.5,161.8 L159.5,161.4 L161.5,161.0 L163.5,160.6 L165.5,160.3 L167.5,160.0 L169.5,159.7 L171.5,159.4 L173.5,159.1 L175.5,158.9 L177.5,158.7 L179.5,158.5 L181.5,158.4 L183.5,158.2 L185.5,158.1 L187.5,158.1 L189.5,158.0 L191.5,157.9 L193.5,157.8 L195.5,157.8 L197.5,157.7 L199.5,157.7 L201.5,157.8 L203.5,157.9 L205.5,158.0 L207.5,158.2 L209.5,158.4 L211.5,158.6 L213.5,158.8 L215.5,159.1 L217.5,159.4 L219.5,159.7 L221.5,160.0 L223.5,160.3 L225.5,160.7 L227.5,161.1 L229.5,161.4 L231.5,161.9 L233.5,162.3 L235.5,162.7 L237.5,163.2 L239.5,163.6 L241.5,164.1 L243.5,164.6 L245.5,165.1 L247.5,165.6 L249.5,166.1 L251.5,166.6 L253.5,167.2 L255.5,167.7 L257.5,168.3 L259.5,168.8 L261.5,169.4 L263.5,169.9 L265.5,170.5 L267.5,171.1 L269.5,171.7 L271.5,172.3 L273.5,172.8 L275.5,173.4 L277.5,174.0 L279.5,174.5 L281.5,175.0 L283.5,175.6 L285.5,176.1 L287.5,176.6 L289.5,177.1 L291.5,177.6 L293.5,178.1 L295.5,178.7 L297.5,179.2 L299.5,179.7 L301.5,180.2 L303.5,180.7 L305.5,181.3 L307.5,181.8 L309.5,182.2 L311.5,182.7 L313.5,183.2 L315.5,183.6 L317.5,184.1 L319.5,184.6 L321.5,185.1 L323.5,185.6 L325.5,186.1 L327.5,186.6 L329.5,187.1 L331.5,187.6 L333.5,188.1 L335.5,188.5 L337.5,188.9 L339.5,189.4 L341.5,189.7 L343.5,190.1 L345.5,190.5 L347.5,190.8 L349.5,191.2 L351.5,191.5 L353.5,191.8 L355.5,192.1 L357.5,192.4 L359.5,192.7 L361.5,193.0 L363.5,193.2 L365.5,193.5 L367.5,193.7 L369.5,194.0 L371.5,194.2 L373.5,194.4 L375.5,194.7 L377.5,194.9 L379.5,195.1 L381.5,195.4 L383.5,195.6 L385.5,195.9 L387.5,196.1 L389.5,196.3 L391.5,196.5 L393.5,196.7 L395.5,196.9 L397.5,197.1 L399.5,197.2 L401.5,197.4 L403.5,197.5 L405.5,197.6 L407.5,197.8 L409.5,197.9 L411.5,198.0 L413.5,198.1 L415.5,198.2 L417.5,198.3 L419.5,198.4 L421.5,198.5 L423.5,198.6 L425.0,198.7" fill="none" stroke="#00f" stroke-width="1.65"/>
<rect x="90.0" y="18.3" width="402.8" height="248.8" fill="none" stroke="#000" stroke-width="1.45"/>
<path d="M98.1,267.1 v-4.0 M98.1,18.3 v4.0 M136.8,267.1 v-2.4 M136.8,18.3 v2.4 M175.4,267.1 v-4.0 M175.4,18.3 v4.0 M214.1,267.1 v-2.4 M214.1,18.3 v2.4 M252.7,267.1 v-4.0 M252.7,18.3 v4.0 M291.4,267.1 v-2.4 M291.4,18.3 v2.4 M330.1,267.1 v-4.0 M330.1,18.3 v4.0 M368.7,267.1 v-2.4 M368.7,18.3 v2.4 M407.4,267.1 v-4.0 M407.4,18.3 v4.0 M446.0,267.1 v-2.4 M446.0,18.3 v2.4 M484.7,267.1 v-4.0 M484.7,18.3 v4.0 M90.0,23.2 h4.0 M492.8,23.2 h-4.0 M90.0,47.2 h2.4 M492.8,47.2 h-2.4 M90.0,71.1 h4.0 M492.8,71.1 h-4.0 M90.0,95.1 h2.4 M492.8,95.1 h-2.4 M90.0,119.0 h4.0 M492.8,119.0 h-4.0 M90.0,143.0 h2.4 M492.8,143.0 h-2.4 M90.0,166.9 h4.0 M492.8,166.9 h-4.0 M90.0,190.9 h2.4 M492.8,190.9 h-2.4 M90.0,214.8 h4.0 M492.8,214.8 h-4.0 M90.0,238.8 h2.4 M492.8,238.8 h-2.4 M90.0,262.7 h4.0 M492.8,262.7 h-4.0" stroke="#000" stroke-width="1.3" fill="none"/>
<g class="t" font-size="13.7" stroke="#000" stroke-width="0.22"><text x="85.25" y="282.2" textLength="7.97" lengthAdjust="spacingAndGlyphs" class="z">0</text><text x="93.67" y="282.2" textLength="8.86" lengthAdjust="spacingAndGlyphs">.</text><text x="102.97" y="282.2" textLength="7.97" lengthAdjust="spacingAndGlyphs" class="z">0</text><text x="162.57" y="282.2" textLength="7.97" lengthAdjust="spacingAndGlyphs" class="z">0</text><text x="170.99" y="282.2" textLength="8.86" lengthAdjust="spacingAndGlyphs">.</text><text x="179.85" y="282.2" textLength="8.86" lengthAdjust="spacingAndGlyphs">2</text><text x="239.89" y="282.2" textLength="7.97" lengthAdjust="spacingAndGlyphs" class="z">0</text><text x="248.31" y="282.2" textLength="8.86" lengthAdjust="spacingAndGlyphs">.</text><text x="257.17" y="282.2" textLength="8.86" lengthAdjust="spacingAndGlyphs">4</text><text x="317.21" y="282.2" textLength="7.97" lengthAdjust="spacingAndGlyphs" class="z">0</text><text x="325.63" y="282.2" textLength="8.86" lengthAdjust="spacingAndGlyphs">.</text><text x="334.49" y="282.2" textLength="8.86" lengthAdjust="spacingAndGlyphs">6</text><text x="394.53" y="282.2" textLength="7.97" lengthAdjust="spacingAndGlyphs" class="z">0</text><text x="402.95" y="282.2" textLength="8.86" lengthAdjust="spacingAndGlyphs">.</text><text x="411.81" y="282.2" textLength="8.86" lengthAdjust="spacingAndGlyphs">8</text><text x="471.41" y="282.2" textLength="8.86" lengthAdjust="spacingAndGlyphs">1</text><text x="480.27" y="282.2" textLength="8.86" lengthAdjust="spacingAndGlyphs">.</text><text x="489.57" y="282.2" textLength="7.97" lengthAdjust="spacingAndGlyphs" class="z">0</text><text x="61.42" y="27.9" textLength="8.86" lengthAdjust="spacingAndGlyphs">1</text><text x="70.28" y="27.9" textLength="8.86" lengthAdjust="spacingAndGlyphs">.</text><text x="79.14" y="27.9" textLength="8.86" lengthAdjust="spacingAndGlyphs">1</text><text x="61.86" y="75.8" textLength="7.97" lengthAdjust="spacingAndGlyphs" class="z">0</text><text x="70.28" y="75.8" textLength="8.86" lengthAdjust="spacingAndGlyphs">.</text><text x="79.14" y="75.8" textLength="8.86" lengthAdjust="spacingAndGlyphs">8</text><text x="61.86" y="123.7" textLength="7.97" lengthAdjust="spacingAndGlyphs" class="z">0</text><text x="70.28" y="123.7" textLength="8.86" lengthAdjust="spacingAndGlyphs">.</text><text x="79.14" y="123.7" textLength="8.86" lengthAdjust="spacingAndGlyphs">5</text><text x="61.86" y="171.6" textLength="7.97" lengthAdjust="spacingAndGlyphs" class="z">0</text><text x="70.28" y="171.6" textLength="8.86" lengthAdjust="spacingAndGlyphs">.</text><text x="79.14" y="171.6" textLength="8.86" lengthAdjust="spacingAndGlyphs">2</text><text x="52.56" y="219.5" textLength="8.86" lengthAdjust="spacingAndGlyphs">−</text><text x="61.86" y="219.5" textLength="7.97" lengthAdjust="spacingAndGlyphs" class="z">0</text><text x="70.28" y="219.5" textLength="8.86" lengthAdjust="spacingAndGlyphs">.</text><text x="79.14" y="219.5" textLength="8.86" lengthAdjust="spacingAndGlyphs">1</text><text x="52.56" y="267.4" textLength="8.86" lengthAdjust="spacingAndGlyphs">−</text><text x="61.86" y="267.4" textLength="7.97" lengthAdjust="spacingAndGlyphs" class="z">0</text><text x="70.28" y="267.4" textLength="8.86" lengthAdjust="spacingAndGlyphs">.</text><text x="79.14" y="267.4" textLength="8.86" lengthAdjust="spacingAndGlyphs">4</text></g>
<path d="M368.7,32.9 H379.9" stroke="#f00" stroke-width="1.9" stroke-dasharray="2.6 1.7"/><path d="M368.7,49.75 H379.9" stroke="#00f" stroke-width="1.9" stroke-dasharray="2.6 1.7"/><path d="M368.7,66.6 H379.9" stroke="#f00" stroke-width="2.1"/><path d="M368.7,83.45 H379.9" stroke="#00f" stroke-width="2.1"/><path d="M368.6,100.2 h2.4 M376.7,100.2 h2.4" stroke="#10ee10" stroke-width="2.3"/><path d="M368.4,117.2 H379.9" stroke="#b3b3b3" stroke-width="3.9"/><path d="M368.4,134.1 H379.9" stroke="#696969" stroke-width="3.9"/><g class="t" font-size="8.5" stroke="#000" stroke-width="0.1"><text x="384.60" y="35.1" textLength="6.00" lengthAdjust="spacingAndGlyphs">m</text><text x="390.60" y="35.1" textLength="6.00" lengthAdjust="spacingAndGlyphs">o</text><text x="396.60" y="35.1" textLength="6.00" lengthAdjust="spacingAndGlyphs">d</text><text x="402.60" y="35.1" textLength="6.00" lengthAdjust="spacingAndGlyphs">e</text><text x="408.60" y="35.1" textLength="6.00" lengthAdjust="spacingAndGlyphs">l</text><text x="420.60" y="35.1" textLength="6.00" lengthAdjust="spacingAndGlyphs">1</text><text x="427.50" y="35.1" textLength="6.00" lengthAdjust="spacingAndGlyphs">(</text><text x="433.37" y="35.1" textLength="4.91" lengthAdjust="spacingAndGlyphs" class="z">0</text><text x="438.55" y="35.1" textLength="5.45" lengthAdjust="spacingAndGlyphs">.</text><text x="444.00" y="35.1" textLength="5.45" lengthAdjust="spacingAndGlyphs">1</text><text x="449.45" y="35.1" textLength="5.45" lengthAdjust="spacingAndGlyphs">9</text><text x="458.5" y="35.1" class="z" font-size="8.4" textLength="16.9" lengthAdjust="spacingAndGlyphs">GeV</text><text x="476.6" y="31.6" class="z" font-size="5.8" stroke-width="0">2</text><text x="480.30" y="35.1" textLength="6.00" lengthAdjust="spacingAndGlyphs">)</text><text x="384.60" y="52.0" textLength="6.00" lengthAdjust="spacingAndGlyphs">m</text><text x="390.60" y="52.0" textLength="6.00" lengthAdjust="spacingAndGlyphs">o</text><text x="396.60" y="52.0" textLength="6.00" lengthAdjust="spacingAndGlyphs">d</text><text x="402.60" y="52.0" textLength="6.00" lengthAdjust="spacingAndGlyphs">e</text><text x="408.60" y="52.0" textLength="6.00" lengthAdjust="spacingAndGlyphs">l</text><text x="420.60" y="52.0" textLength="6.00" lengthAdjust="spacingAndGlyphs">2</text><text x="427.50" y="52.0" textLength="6.00" lengthAdjust="spacingAndGlyphs">(</text><text x="433.37" y="52.0" textLength="4.91" lengthAdjust="spacingAndGlyphs" class="z">0</text><text x="438.55" y="52.0" textLength="5.45" lengthAdjust="spacingAndGlyphs">.</text><text x="444.00" y="52.0" textLength="5.45" lengthAdjust="spacingAndGlyphs">1</text><text x="449.45" y="52.0" textLength="5.45" lengthAdjust="spacingAndGlyphs">9</text><text x="458.5" y="52.0" class="z" font-size="8.4" textLength="16.9" lengthAdjust="spacingAndGlyphs">GeV</text><text x="476.6" y="48.5" class="z" font-size="5.8" stroke-width="0">2</text><text x="480.30" y="52.0" textLength="6.00" lengthAdjust="spacingAndGlyphs">)</text><text x="384.60" y="68.8" textLength="6.00" lengthAdjust="spacingAndGlyphs">m</text><text x="390.60" y="68.8" textLength="6.00" lengthAdjust="spacingAndGlyphs">o</text><text x="396.60" y="68.8" textLength="6.00" lengthAdjust="spacingAndGlyphs">d</text><text x="402.60" y="68.8" textLength="6.00" lengthAdjust="spacingAndGlyphs">e</text><text x="408.60" y="68.8" textLength="6.00" lengthAdjust="spacingAndGlyphs">l</text><text x="420.60" y="68.8" textLength="6.00" lengthAdjust="spacingAndGlyphs">1</text><text x="427.50" y="68.8" textLength="6.00" lengthAdjust="spacingAndGlyphs">(</text><text x="433.10" y="68.8" textLength="5.45" lengthAdjust="spacingAndGlyphs">2</text><text x="438.55" y="68.8" textLength="5.45" lengthAdjust="spacingAndGlyphs">.</text><text x="444.00" y="68.8" textLength="5.45" lengthAdjust="spacingAndGlyphs">4</text><text x="452.9" y="68.8" class="z" font-size="8.4" textLength="16.9" lengthAdjust="spacingAndGlyphs">GeV</text><text x="471.0" y="65.3" class="z" font-size="5.8" stroke-width="0">2</text><text x="474.70" y="68.8" textLength="6.00" lengthAdjust="spacingAndGlyphs">)</text><text x="384.60" y="85.7" textLength="6.00" lengthAdjust="spacingAndGlyphs">m</text><text x="390.60" y="85.7" textLength="6.00" lengthAdjust="spacingAndGlyphs">o</text><text x="396.60" y="85.7" textLength="6.00" lengthAdjust="spacingAndGlyphs">d</text><text x="402.60" y="85.7" textLength="6.00" lengthAdjust="spacingAndGlyphs">e</text><text x="408.60" y="85.7" textLength="6.00" lengthAdjust="spacingAndGlyphs">l</text><text x="420.60" y="85.7" textLength="6.00" lengthAdjust="spacingAndGlyphs">2</text><text x="427.50" y="85.7" textLength="6.00" lengthAdjust="spacingAndGlyphs">(</text><text x="433.10" y="85.7" textLength="5.45" lengthAdjust="spacingAndGlyphs">2</text><text x="438.55" y="85.7" textLength="5.45" lengthAdjust="spacingAndGlyphs">.</text><text x="444.00" y="85.7" textLength="5.45" lengthAdjust="spacingAndGlyphs">4</text><text x="452.9" y="85.7" class="z" font-size="8.4" textLength="16.9" lengthAdjust="spacingAndGlyphs">GeV</text><text x="471.0" y="82.2" class="z" font-size="5.8" stroke-width="0">2</text><text x="474.70" y="85.7" textLength="6.00" lengthAdjust="spacingAndGlyphs">)</text><text x="384.60" y="102.6" textLength="6.00" lengthAdjust="spacingAndGlyphs">K</text><text x="390.60" y="102.6" textLength="6.00" lengthAdjust="spacingAndGlyphs">a</text><text x="396.60" y="102.6" textLength="6.00" lengthAdjust="spacingAndGlyphs">n</text><text x="402.60" y="102.6" textLength="6.00" lengthAdjust="spacingAndGlyphs">g</text><text x="414.60" y="102.6" textLength="6.00" lengthAdjust="spacingAndGlyphs">e</text><text x="420.60" y="102.6" textLength="6.00" lengthAdjust="spacingAndGlyphs">t</text><text x="432.60" y="102.6" textLength="6.00" lengthAdjust="spacingAndGlyphs">a</text><text x="438.60" y="102.6" textLength="6.00" lengthAdjust="spacingAndGlyphs">l</text><text x="384.60" y="119.4" textLength="6.00" lengthAdjust="spacingAndGlyphs">B</text><text x="390.60" y="119.4" textLength="6.00" lengthAdjust="spacingAndGlyphs">a</text><text x="396.60" y="119.4" textLength="6.00" lengthAdjust="spacingAndGlyphs">c</text><text x="402.60" y="119.4" textLength="6.00" lengthAdjust="spacingAndGlyphs">c</text><text x="408.60" y="119.4" textLength="6.00" lengthAdjust="spacingAndGlyphs">h</text><text x="414.60" y="119.4" textLength="6.00" lengthAdjust="spacingAndGlyphs">e</text><text x="420.60" y="119.4" textLength="6.00" lengthAdjust="spacingAndGlyphs">t</text><text x="426.60" y="119.4" textLength="6.00" lengthAdjust="spacingAndGlyphs">t</text><text x="432.60" y="119.4" textLength="6.00" lengthAdjust="spacingAndGlyphs">a</text><text x="444.60" y="119.4" textLength="6.00" lengthAdjust="spacingAndGlyphs">e</text><text x="450.60" y="119.4" textLength="6.00" lengthAdjust="spacingAndGlyphs">t</text><text x="462.60" y="119.4" textLength="6.00" lengthAdjust="spacingAndGlyphs">a</text><text x="468.60" y="119.4" textLength="6.00" lengthAdjust="spacingAndGlyphs">l</text><text x="384.60" y="136.2" textLength="6.00" lengthAdjust="spacingAndGlyphs">R</text><text x="390.60" y="136.2" textLength="6.00" lengthAdjust="spacingAndGlyphs">a</text><text x="396.60" y="136.2" textLength="6.00" lengthAdjust="spacingAndGlyphs">d</text><text x="402.60" y="136.2" textLength="6.00" lengthAdjust="spacingAndGlyphs">i</text><text x="408.60" y="136.2" textLength="6.00" lengthAdjust="spacingAndGlyphs">c</text><text x="414.60" y="136.2" textLength="6.00" lengthAdjust="spacingAndGlyphs">i</text><text x="426.60" y="136.2" textLength="6.00" lengthAdjust="spacingAndGlyphs">e</text><text x="432.60" y="136.2" textLength="6.00" lengthAdjust="spacingAndGlyphs">t</text><text x="444.60" y="136.2" textLength="6.00" lengthAdjust="spacingAndGlyphs">a</text><text x="450.60" y="136.2" textLength="6.00" lengthAdjust="spacingAndGlyphs">l</text></g>
<g class="t s" stroke="#000">
<text x="0.4" y="149.1" font-size="16.3" textLength="21.4" lengthAdjust="spacingAndGlyphs" stroke-width="0.45">xh</text>
<text x="21.3" y="140.1" font-size="10" textLength="7.4" lengthAdjust="spacingAndGlyphs" stroke-width="0.15">u</text>
<text x="28.6" y="142.5" font-size="6.4" textLength="4.8" lengthAdjust="spacingAndGlyphs" stroke-width="0.1">v</text>
<text x="34.2" y="141.7" font-size="11.5" textLength="6.2" lengthAdjust="spacingAndGlyphs" stroke-width="0.1">/</text>
<text x="40.8" y="140.6" font-size="10" textLength="7.6" lengthAdjust="spacingAndGlyphs" stroke-width="0.15">p</text>
<text x="286.0" y="305.6" font-size="16.3" textLength="10.6" lengthAdjust="spacingAndGlyphs" stroke-width="0.45">x</text>
</g>
<g class="t"><text x="21.6" y="153.5" font-size="10.6" stroke="#000" stroke-width="0.25">1</text>
</g>
</svg>
</body></html>
